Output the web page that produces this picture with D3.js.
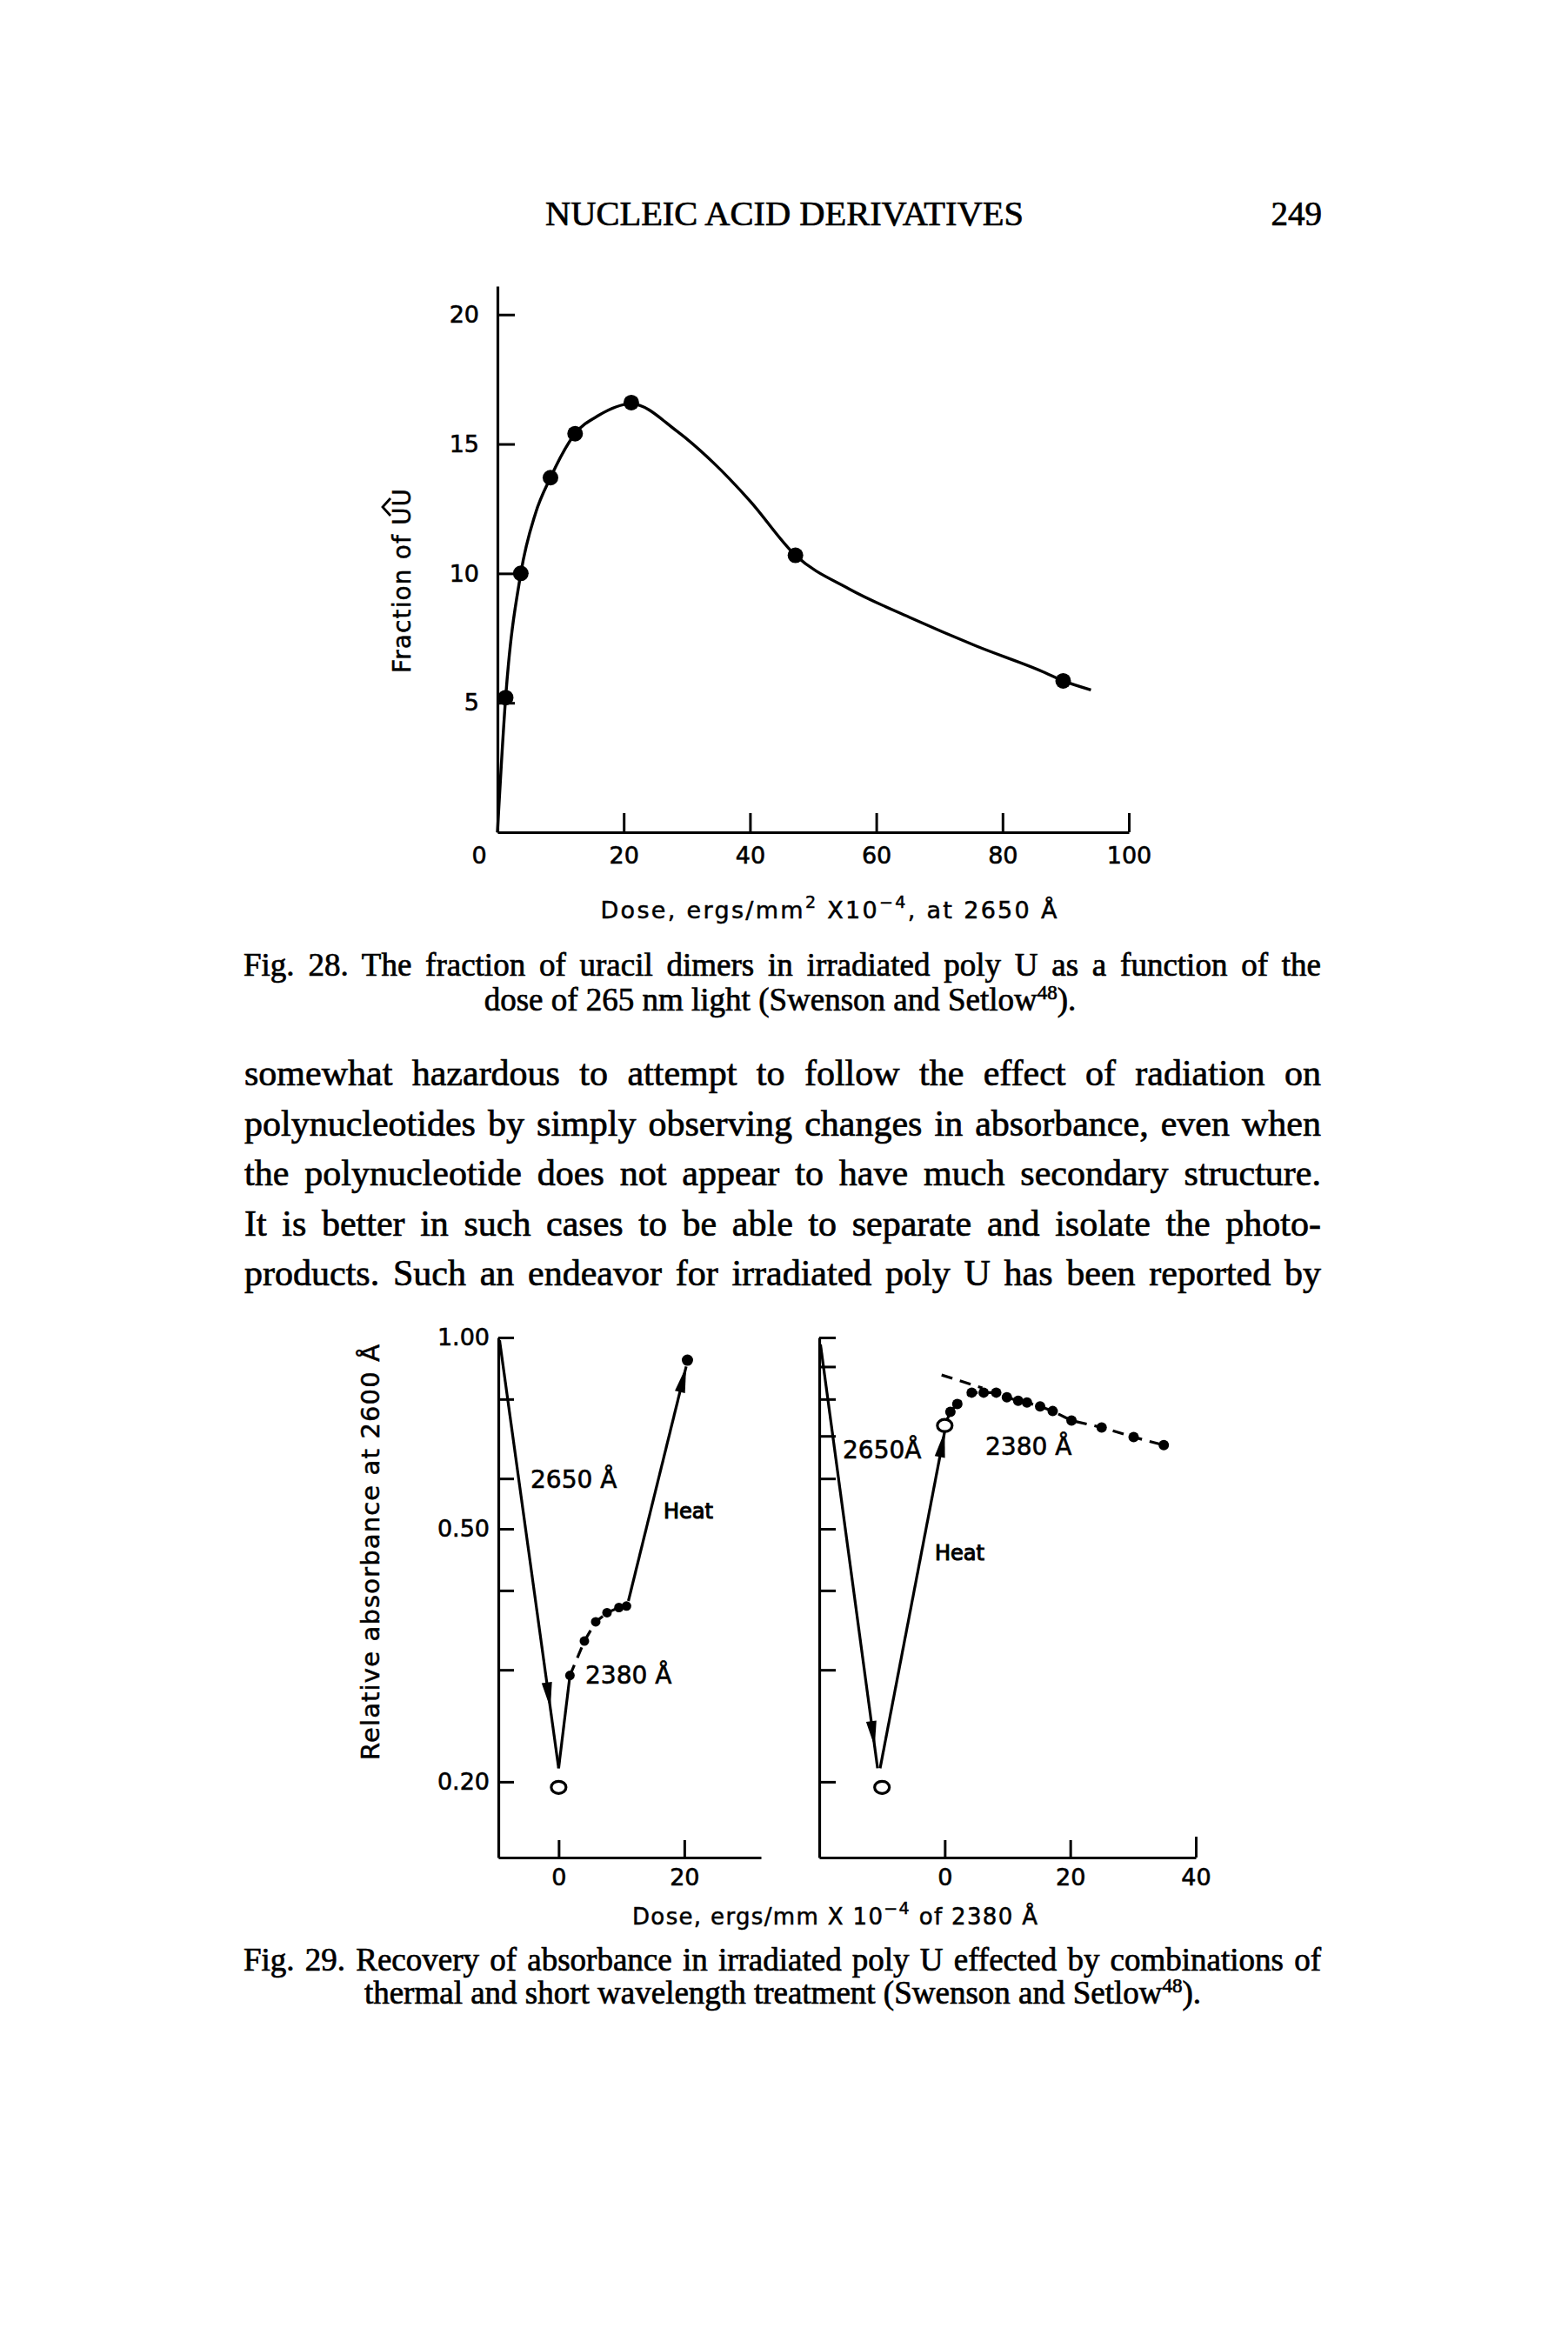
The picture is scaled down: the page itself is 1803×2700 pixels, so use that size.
<!DOCTYPE html>
<html><head><meta charset="utf-8">
<script src="https://cdn.jsdelivr.net/npm/d3@7"></script>
<style>html,body{margin:0;padding:0;background:#fff}</style>
</head><body>
<svg id="page" width="1803" height="2700" xmlns="http://www.w3.org/2000/svg"></svg>
<script>
// ---------------- DATA ----------------
// Fig. 28 : fraction of uracil dimers vs dose (ergs/mm2 x10^-4 at 2650 A)
const fig28Dose      = [1.3, 3.7, 8.4, 12.3, 21.2, 47.2, 89.6];
const fig28Fraction  = [5.2, 10.0, 13.7, 15.4, 16.6, 10.7, 5.85];
// smooth curve drawn through the points
const fig28CurveDose     = [0, 1.3, 3.7, 6, 8.4, 12.3, 16, 21.2, 28.4, 34.1, 40, 47.2, 55.7, 65.3, 75.8, 86.4, 89.6, 94];
const fig28CurveFraction = [0, 5.2, 10, 12.3, 13.7, 15.4, 16.1, 16.55, 15.5, 14.3, 12.8, 10.7, 9.4, 8.3, 7.2, 6.2, 5.85, 5.5];
const fig28XTicks = [20, 40, 60, 80, 100];
const fig28YTicks = [5, 10, 15, 20];

// Fig. 29 : relative absorbance at 2600 A (log scale) vs dose of 2380 A
const fig29LeftYTicks  = [1.0, 0.8, 0.6, 0.5, 0.4, 0.3, 0.2];
const fig29RightYTicks = [1.0, 0.9, 0.8, 0.7, 0.6, 0.5, 0.4, 0.3, 0.2];
const fig29YLabels = {"1": "1.00", "0.5": "0.50", "0.2": "0.20"};
const fig29LeftXTicks  = [0, 20];
const fig29RightXTicks = [0, 20, 40];

// left panel
const leftDropDose = [-9.4, 0.0];          const leftDropAbs = [0.99, 0.21];   // 2650 A irradiation
const leftZeroDose = [0.0];                const leftZeroAbs = [0.196];        // open circle
const leftRiseDose = [0.0, 1.8];           const leftRiseAbs = [0.21, 0.294];
const left2380Dose = [1.8, 4.1, 5.9, 7.7, 9.6, 10.8];
const left2380Abs  = [0.294, 0.333, 0.357, 0.369, 0.376, 0.378];
const leftHeatDose = [11.1, 20.3];         const leftHeatAbs = [0.385, 0.90];
const leftHeatEndDose = [20.5];            const leftHeatEndAbs = [0.921];

// right panel
const rightDropDose = [-19.8, -10.7];      const rightDropAbs = [0.975, 0.21];
const rightZeroDose = [-10.0];             const rightZeroAbs = [0.196];
const rightHeatDose = [-10.3, 0.0];        const rightHeatAbs = [0.21, 0.712];
const rightHeatEndDose = [0.0];            const rightHeatEndAbs = [0.727];
const right2380Dose = [0.9, 2.0, 4.3, 6.2, 8.2, 9.9, 11.7, 13.1, 15.2, 17.2, 20.2, 25.0, 30.1, 34.9];
const right2380Abs  = [0.764, 0.786, 0.819, 0.819, 0.819, 0.805, 0.795, 0.790, 0.779, 0.766, 0.740, 0.722, 0.697, 0.677];
const rightExtrapDose = [-0.5, 6.0];       const rightExtrapAbs = [0.873, 0.833];

// page text
const headerText = "NUCLEIC ACID DERIVATIVES";
const pageNumber = "249";
const fig28Caption1 = "Fig. 28. The fraction of uracil dimers in irradiated poly U as a function of the";
const fig28Caption2 = "dose of 265 nm light (Swenson and Setlow";
const bodyLines = [
  "somewhat hazardous to attempt to follow the effect of radiation on",
  "polynucleotides by simply observing changes in absorbance, even when",
  "the polynucleotide does not appear to have much secondary structure.",
  "It is better in such cases to be able to separate and isolate the photo-",
  "products. Such an endeavor for irradiated poly U has been reported by"
];
const fig29Caption1 = "Fig. 29. Recovery of absorbance in irradiated poly U effected by combinations of";
const fig29Caption2 = "thermal and short wavelength treatment (Swenson and Setlow";

// ---------------- DRAWING ----------------
const FIG_FONT = "'DejaVu Sans', sans-serif";
const TEXT_FONT = "'Liberation Serif', 'Times New Roman', serif";
const svg = d3.select("#page");
svg.append("rect").attr("width", 1803).attr("height", 2700).attr("fill", "#fff");
const zip = (a, b) => a.map((v, i) => [v, b[i]]);

function justify(g, str, x0, x1, yb, size) {
  const t = g.append("text").attr("x", x0).attr("y", yb).attr("font-size", size).text(str);
  const w = t.node().getComputedTextLength();
  const n = (str.match(/ /g) || []).length;
  if (n > 0) {
    t.style("word-spacing", ((x1 - x0 - w) / n) + "px");
    const w2 = t.node().getComputedTextLength();
    if (Math.abs(w2 - (x1 - x0)) > 4) t.attr("textLength", x1 - x0).attr("lengthAdjust", "spacing");
  }
  return t;
}
function styleAxis(g, fs) {
  g.attr("font-family", FIG_FONT).attr("font-size", fs);
  g.selectAll("path.domain").attr("stroke", "#000").attr("stroke-width", 3.2);
  g.selectAll(".tick line").attr("stroke", "#000").attr("stroke-width", 3);
  g.selectAll(".tick text").attr("fill", "#000").attr("stroke", "#000").attr("stroke-width", 0.6);
}
function arrowHead(g, p0, p1, t, len, hw) {
  const dx = p1[0] - p0[0], dy = p1[1] - p0[1], L = Math.hypot(dx, dy);
  const ux = dx / L, uy = dy / L;
  const tip = [p0[0] + dx * t, p0[1] + dy * t];
  const b = [tip[0] - ux * len, tip[1] - uy * len];
  const pts = [tip, [b[0] - uy * hw, b[1] + ux * hw], [b[0] + uy * hw, b[1] - ux * hw]];
  g.append("path").attr("d", "M" + pts.map(p => p.join(",")).join("L") + "Z").attr("fill", "#000");
}

// ---- Header ----
const txt = svg.append("g").attr("font-family", TEXT_FONT).attr("fill", "#000")
  .attr("stroke", "#000").attr("stroke-width", 0.7);
txt.append("text").attr("x", 902).attr("y", 259).attr("font-size", 39).attr("text-anchor", "middle")
  .attr("textLength", 550).attr("lengthAdjust", "spacingAndGlyphs").text(headerText);
txt.append("text").attr("x", 1520).attr("y", 259).attr("font-size", 39).attr("text-anchor", "end").text(pageNumber);

// ---- Fig. 28 ----
const x28 = d3.scaleLinear().domain([0, 100]).range([572, 1298]);
const y28 = d3.scaleLinear().domain([0, 21.1]).range([957, 329]);
const f28 = svg.append("g");
const gx28 = f28.append("g").attr("transform", `translate(0,${y28(0)})`)
  .call(d3.axisBottom(x28).tickValues(fig28XTicks).tickSizeInner(-22).tickSizeOuter(0).tickPadding(17));
styleAxis(gx28, 27);
const gy28 = f28.append("g").attr("transform", `translate(${x28(0)},0)`)
  .call(d3.axisLeft(y28).tickValues(fig28YTicks).tickSizeInner(-20).tickSizeOuter(0).tickPadding(21));
styleAxis(gy28, 27);
f28.append("text").attr("x", x28(0) - 21).attr("y", y28(0) + 17).attr("dy", "0.71em")
  .attr("text-anchor", "middle").attr("font-family", FIG_FONT).attr("font-size", 27)
  .attr("stroke", "#000").attr("stroke-width", 0.6).text("0");

f28.append("path").datum(zip(fig28CurveDose, fig28CurveFraction))
  .attr("d", d3.line().x(d => x28(d[0])).y(d => y28(d[1])).curve(d3.curveMonotoneX))
  .attr("fill", "none").attr("stroke", "#000").attr("stroke-width", 3.4);
f28.selectAll("circle.pt").data(zip(fig28Dose, fig28Fraction)).enter().append("circle")
  .attr("cx", d => x28(d[0])).attr("cy", d => y28(d[1])).attr("r", 9).attr("fill", "#000");

// axis title
const t28 = f28.append("text").attr("x", 953).attr("y", 1056).attr("text-anchor", "middle")
  .attr("font-family", FIG_FONT).attr("font-size", 27).attr("stroke", "#000").attr("stroke-width", 0.5)
  .attr("textLength", 525).attr("lengthAdjust", "spacing");
t28.append("tspan").text("Dose, ergs/mm");
t28.append("tspan").attr("dy", -12).attr("font-size", 19).text("2");
t28.append("tspan").attr("dy", 12).text(" X10");
t28.append("tspan").attr("dy", -12).attr("font-size", 19).text("\u22124");
t28.append("tspan").attr("dy", 12).text(", at 2650 \u00C5");

// y label with dimer caret
const yl28 = f28.append("g").attr("transform", "translate(462,668) rotate(-90)");
const yl28t = yl28.append("text").attr("x", 0).attr("y", 10).attr("text-anchor", "middle")
  .attr("font-family", FIG_FONT).attr("font-size", 28).attr("stroke", "#000").attr("stroke-width", 0.5)
  .attr("textLength", 212).attr("lengthAdjust", "spacing").text("Fraction of UU");
{
  const n = yl28t.node();
  const s = n.getStartPositionOfChar(12).x, e = n.getEndPositionOfChar(13).x, m = (s + e) / 2;
  yl28.append("path").attr("d", `M${m - 10},-13L${m},-22L${m + 10},-13`)
    .attr("fill", "none").attr("stroke", "#000").attr("stroke-width", 2.8);
}

// caption 28
justify(txt, fig28Caption1, 280, 1519, 1122, 37);
const c28 = txt.append("text").attr("x", 897).attr("y", 1162).attr("font-size", 37).attr("text-anchor", "middle");
c28.append("tspan").text(fig28Caption2);
c28.append("tspan").attr("dy", -13).attr("font-size", 23).text("48");
c28.append("tspan").attr("dy", 13).text(").");

// body
bodyLines.forEach((l, i) => justify(txt, l, 281, 1519, 1248 + i * 57.5, 42));

// ---- Fig. 29 ----
const yAbs = d3.scaleLog().domain([0.152, 1.0]).range([2136, 1538]);
const xL = d3.scaleLinear().domain([-9.6, 32.2]).range([573, 875]);
const xR = d3.scaleLinear().domain([-20, 40]).range([942, 1375]);
const f29 = svg.append("g");

const gyL = f29.append("g").attr("transform", `translate(${xL.range()[0]},0)`)
  .call(d3.axisLeft(yAbs).tickValues(fig29LeftYTicks).tickSizeInner(-18).tickSizeOuter(0).tickPadding(10)
    .tickFormat(d => fig29YLabels[String(+d.toFixed(2))] || ""));
styleAxis(gyL, 27);
const gyR = f29.append("g").attr("transform", `translate(${xR.range()[0]},0)`)
  .call(d3.axisLeft(yAbs).tickValues(fig29RightYTicks).tickSizeInner(-19).tickSizeOuter(0).tickFormat(() => ""));
styleAxis(gyR, 27);
const gxL = f29.append("g").attr("transform", `translate(0,${yAbs.range()[0]})`)
  .call(d3.axisBottom(xL).tickValues(fig29LeftXTicks).tickSizeInner(-20).tickSizeOuter(0).tickPadding(13));
styleAxis(gxL, 27);
const gxR = f29.append("g").attr("transform", `translate(0,${yAbs.range()[0]})`)
  .call(d3.axisBottom(xR).tickValues(fig29RightXTicks).tickSizeInner(-20).tickSizeOuter(0).tickPadding(13));
styleAxis(gxR, 27);
gxR.selectAll(".tick line").filter(d => d === 40).attr("y2", -24);

function seg(xs, dose, abs, dashed) {
  return f29.append("path").datum(zip(dose, abs))
    .attr("d", d3.line().x(d => xs(d[0])).y(d => yAbs(d[1])))
    .attr("fill", "none").attr("stroke", "#000").attr("stroke-width", 3.2)
    .attr("stroke-dasharray", dashed ? "13,9" : null);
}
function pix(xs, d, a) { return [xs(d), yAbs(a)]; }
function dots(xs, dose, abs, r) {
  f29.append("g").selectAll("circle").data(zip(dose, abs)).enter().append("circle")
    .attr("cx", d => xs(d[0])).attr("cy", d => yAbs(d[1])).attr("r", r).attr("fill", "#000");
}
function openCircle(xs, dose, abs) {
  f29.append("g").selectAll("ellipse").data(zip(dose, abs)).enter().append("ellipse")
    .attr("cx", d => xs(d[0])).attr("cy", d => yAbs(d[1])).attr("rx", 8.5).attr("ry", 7)
    .attr("fill", "#fff").attr("stroke", "#000").attr("stroke-width", 3.2);
}

// left panel marks
seg(xL, leftDropDose, leftDropAbs, false);
arrowHead(f29, pix(xL, leftDropDose[0], leftDropAbs[0]), pix(xL, leftDropDose[1], leftDropAbs[1]), 0.86, 30, 6);
seg(xL, leftRiseDose, leftRiseAbs, false);
seg(xL, left2380Dose, left2380Abs, true);
dots(xL, left2380Dose, left2380Abs, 5.5);
seg(xL, leftHeatDose, leftHeatAbs, false);
arrowHead(f29, pix(xL, leftHeatDose[0], leftHeatAbs[0]), pix(xL, leftHeatDose[1], leftHeatAbs[1]), 1.0, 30, 6);
dots(xL, leftHeatEndDose, leftHeatEndAbs, 6.5);
openCircle(xL, leftZeroDose, leftZeroAbs);

// right panel marks
seg(xR, rightDropDose, rightDropAbs, false);
arrowHead(f29, pix(xR, rightDropDose[0], rightDropAbs[0]), pix(xR, rightDropDose[1], rightDropAbs[1]), 0.95, 30, 6);
seg(xR, rightHeatDose, rightHeatAbs, false);
arrowHead(f29, pix(xR, rightHeatDose[0], rightHeatAbs[0]), pix(xR, rightHeatDose[1], rightHeatAbs[1]), 1.0, 30, 6);
seg(xR, [rightHeatEndDose[0]].concat(right2380Dose), [rightHeatEndAbs[0]].concat(right2380Abs), true);
seg(xR, rightExtrapDose, rightExtrapAbs, true);
dots(xR, right2380Dose, right2380Abs, 6);
openCircle(xR, rightZeroDose, rightZeroAbs);
openCircle(xR, rightHeatEndDose, rightHeatEndAbs);

// annotations
const ann = f29.append("g").attr("font-family", FIG_FONT).attr("fill", "#000")
  .attr("stroke", "#000").attr("stroke-width", 0.6);
ann.append("text").attr("x", 610).attr("y", 1711).attr("font-size", 28).text("2650 \u00C5");
ann.append("text").attr("x", 763).attr("y", 1746).attr("font-size", 24).attr("stroke-width", 1.1).text("Heat");
ann.append("text").attr("x", 673).attr("y", 1936).attr("font-size", 28).text("2380 \u00C5");
ann.append("text").attr("x", 969).attr("y", 1677).attr("font-size", 28).text("2650\u00C5");
ann.append("text").attr("x", 1133).attr("y", 1673).attr("font-size", 28).text("2380 \u00C5");
ann.append("text").attr("x", 1075).attr("y", 1794).attr("font-size", 24).attr("stroke-width", 1.1).text("Heat");

// axis titles
const t29 = f29.append("text").attr("x", 960).attr("y", 2213).attr("text-anchor", "middle")
  .attr("font-family", FIG_FONT).attr("font-size", 26).attr("stroke", "#000").attr("stroke-width", 0.5)
  .attr("textLength", 466).attr("lengthAdjust", "spacing");
t29.append("tspan").text("Dose, ergs/mm X 10");
t29.append("tspan").attr("dy", -12).attr("font-size", 19).text("\u22124");
t29.append("tspan").attr("dy", 12).text(" of 2380 \u00C5");
f29.append("g").attr("transform", "translate(426,1785) rotate(-90)")
  .append("text").attr("x", 0).attr("y", 10).attr("text-anchor", "middle")
  .attr("font-family", FIG_FONT).attr("font-size", 29).attr("stroke", "#000").attr("stroke-width", 0.5)
  .attr("textLength", 478).attr("lengthAdjust", "spacing").text("Relative absorbance at 2600 \u00C5");

// caption 29
justify(txt, fig29Caption1, 280, 1519, 2266, 37);
const c29 = txt.append("text").attr("x", 900).attr("y", 2304).attr("font-size", 37).attr("text-anchor", "middle");
c29.append("tspan").text(fig29Caption2);
c29.append("tspan").attr("dy", -13).attr("font-size", 23).text("48");
c29.append("tspan").attr("dy", 13).text(").");
</script>
</body></html>
